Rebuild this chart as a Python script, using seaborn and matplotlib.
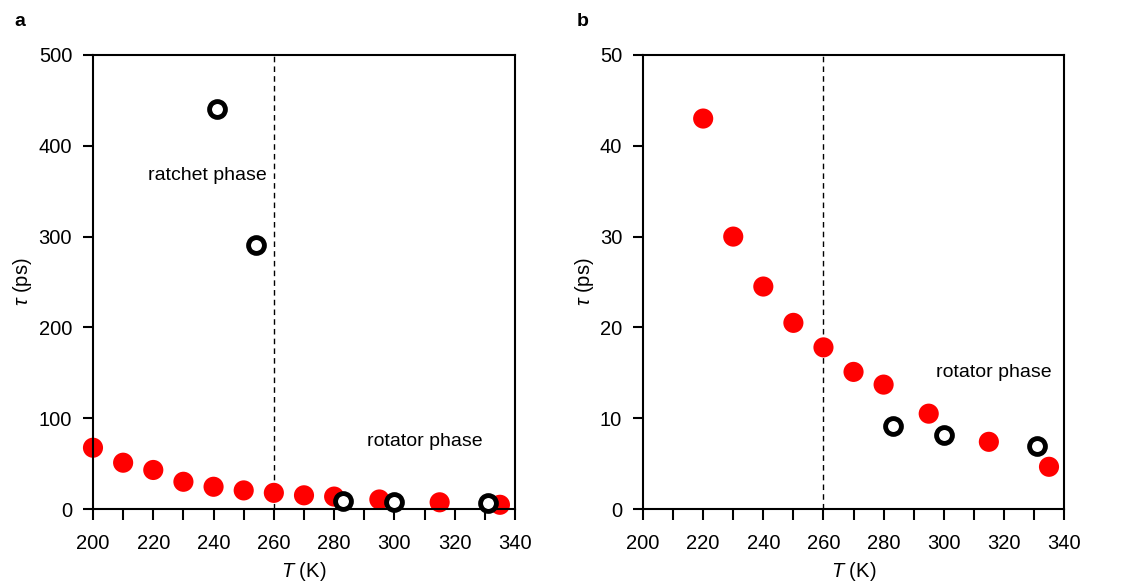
import matplotlib
import matplotlib.pyplot as plt
import numpy as np
import pandas as pd
import seaborn as sns
from matplotlib.ticker import MultipleLocator

# tau vs temperature, two zoom levels of the same data
t_md = [200, 210, 220, 230, 240, 250, 260, 270, 280, 295, 315, 335]
tau_md = [67.5, 51, 43, 30, 24.5, 20.5, 17.8, 15.1, 13.7, 10.5, 7.4, 4.65]
t_exp = [241, 254, 283, 300, 331]
tau_exp = [441, 291, 9.1, 8.1, 6.9]

x_ticks = [200, 220, 240, 260, 280, 300, 320, 340]
y_ticks_a = [0, 100, 200, 300, 400, 500]
y_ticks_b = [0, 10, 20, 30, 40, 50]

sns.set_style('ticks')
plt.rcParams['font.family'] = ['Liberation Sans', 'DejaVu Sans']
plt.rcParams['mathtext.fontset'] = 'custom'
plt.rcParams['mathtext.rm'] = 'Liberation Sans'
plt.rcParams['mathtext.it'] = 'Liberation Sans:italic'
plt.rcParams['font.size'] = 14.5
for key in ['text.color', 'axes.labelcolor', 'xtick.color', 'ytick.color', 'axes.edgecolor']:
    plt.rcParams[key] = 'black'

df_md = pd.DataFrame({'T': t_md, 'tau': tau_md})
df_exp = pd.DataFrame({'T': t_exp, 'tau': tau_exp})

fig = plt.figure(figsize=(11.23, 5.83), dpi=100)
ax_a = fig.add_axes([0.0828, 0.1269, 0.3758, 0.7788])
ax_b = fig.add_axes([0.5726, 0.1269, 0.3749, 0.7788])


def draw(ax, md, ymax, yticks):
    ax.axvline(260, color='black', linestyle=(0, (4, 3)), linewidth=1.0, zorder=1)
    sns.scatterplot(data=md, x='T', y='tau', ax=ax, color='#ff0000', s=210,
                    edgecolor='none', zorder=2, clip_on=False)
    sns.scatterplot(data=df_exp[df_exp.tau <= ymax], x='T', y='tau', ax=ax,
                    facecolor='white', edgecolor='black', linewidth=3.5, s=130,
                    zorder=3, clip_on=False)
    ax.set_xlim(200, 340)
    ax.set_ylim(0, ymax)
    ax.set_xticks(x_ticks)
    ax.xaxis.set_minor_locator(MultipleLocator(10))
    ax.set_yticks(yticks)
    ax.tick_params(axis='x', which='both', direction='out', length=8, width=1.5,
                   labelsize=14.5, pad=10)
    ax.tick_params(axis='y', direction='out', length=7, width=1.5, labelsize=14.5,
                   pad=8)
    for sp in ax.spines.values():
        sp.set_linewidth(1.5)
        sp.set_visible(True)
    ax.set_xlabel('$\\mathit{T}$ (K)', fontsize=14.5, labelpad=5)
    ax.set_ylabel('$\\mathit{\\tau}$ (ps)', fontsize=14.5, labelpad=3)


draw(ax_a, df_md, 500, y_ticks_a)
draw(ax_b, df_md[df_md.tau <= 50], 50, y_ticks_b)

ax_a.text(257.5, 367, 'ratchet phase', ha='right', va='center', fontsize=14)
ax_a.text(310, 74, 'rotator phase', ha='center', va='center', fontsize=14)
ax_b.text(316.5, 15.0, 'rotator phase', ha='center', va='center', fontsize=14)

fig.text(14 / 1123, 1 - 22 / 583, 'a', fontsize=14, fontweight='bold', va='center')
fig.text(577 / 1123, 1 - 22 / 583, 'b', fontsize=14, fontweight='bold', va='center')

plt.savefig('out.png', dpi=100)
